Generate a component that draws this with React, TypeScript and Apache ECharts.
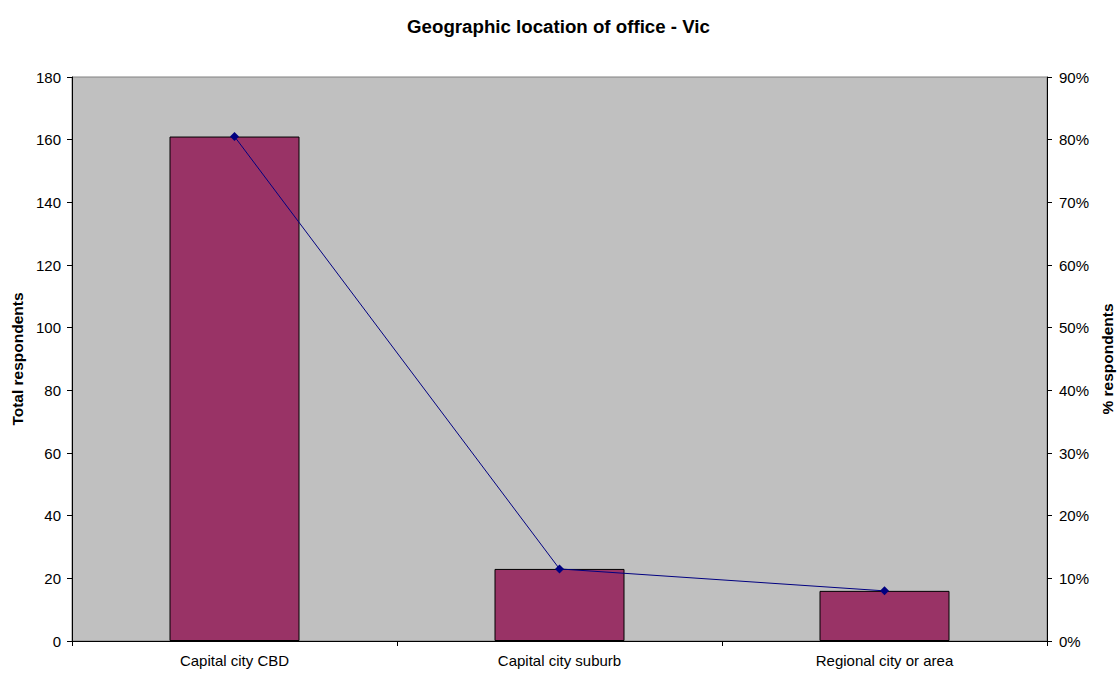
import React, { useEffect, useRef } from "react";
import * as echarts from "echarts";

const categories = ["Capital city CBD", "Capital city suburb", "Regional city or area"];
const totalRespondents = [161, 23, 16];
const pctRespondents = [80.5, 11.5, 8];
const leftTicks = { min: 0, max: 180, interval: 20 };
const rightTicks = { min: 0, max: 90, interval: 10 };

export default function App() {
  const ref = useRef<HTMLDivElement>(null);
  useEffect(() => {
    const chart = echarts.init(ref.current!, null, { renderer: "svg" });
    const font = "Arial, 'Liberation Sans', sans-serif";
    chart.setOption({
      animation: false,
      textStyle: { fontFamily: font },
      title: {
        text: "Geographic location of office - Vic",
        left: "center",
        top: 12,
        textStyle: { fontSize: 18.7, fontWeight: "bold", color: "#000", fontFamily: font },
      },
      grid: {
        left: 72,
        right: 70,
        top: 77,
        bottom: 32,
        outerBoundsMode: "none",
        containLabel: false,
        show: true,
        backgroundColor: "#C0C0C0",
        borderColor: "#808080",
        borderWidth: 1,
      },
      xAxis: {
        type: "category",
        data: categories,
        axisLine: { lineStyle: { color: "#000", width: 1 } },
        axisTick: { show: true, length: 5, lineStyle: { color: "#000" } },
        axisLabel: { color: "#000", fontSize: 15, margin: 12, fontFamily: font },
      },
      yAxis: [
        {
          type: "value",
          ...leftTicks,
          name: "Total respondents",
          nameLocation: "middle",
          nameGap: 46,
          nameTextStyle: { fontSize: 15.5, fontWeight: "bold", color: "#000", fontFamily: font },
          axisLine: { show: true, lineStyle: { color: "#000" } },
          axisTick: { show: true, length: 5, lineStyle: { color: "#000" } },
          axisLabel: { color: "#000", fontSize: 15, margin: 11, fontFamily: font },
          splitLine: { show: false },
        },
        {
          type: "value",
          ...rightTicks,
          name: "% respondents",
          nameLocation: "middle",
          nameGap: 50,
          nameRotate: 90,
          nameTextStyle: { fontSize: 15.5, fontWeight: "bold", color: "#000", fontFamily: font },
          axisLine: { show: true, lineStyle: { color: "#000" } },
          axisTick: { show: true, length: 5, lineStyle: { color: "#000" } },
          axisLabel: { color: "#000", fontSize: 15, margin: 12, formatter: "{value}%", fontFamily: font },
          splitLine: { show: false },
        },
      ],
      series: [
        {
          type: "bar",
          data: totalRespondents,
          yAxisIndex: 0,
          barWidth: "40%",
          itemStyle: { color: "#993366", borderColor: "#000", borderWidth: 1 },
        },
        {
          type: "line",
          data: pctRespondents,
          yAxisIndex: 1,
          symbol: "diamond",
          symbolSize: 9,
          lineStyle: { color: "#000080", width: 1 },
          itemStyle: { color: "#000080" },
        },
      ],
    });
    return () => chart.dispose();
  }, []);
  return <div ref={ref} style={{ width: 1117, height: 673, position: "absolute", left: 0, top: 0 }} />;
}
